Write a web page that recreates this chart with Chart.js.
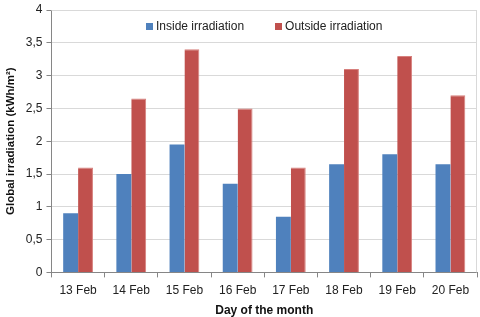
<!DOCTYPE html>
<html>
<head>
<meta charset="utf-8">
<script src="https://cdn.jsdelivr.net/npm/chart.js@4"></script>
<style>
  html, body { margin: 0; padding: 0; background: #fff; }
  #wrap { position: relative; width: 480px; height: 317px; }
  #legend {
    position: absolute; left: 146px; top: 19px;
    display: flex; align-items: center;
    font: 12px "Liberation Sans", Arial, sans-serif; color: #222;
  }
  #legend .item { display: flex; align-items: center; margin-right: 31px; }
  #legend .sw { width: 7px; height: 7px; margin-right: 3px; }
</style>
</head>
<body>
<div id="wrap"><canvas id="chart"></canvas><div id="legend"></div></div>
<script>
// data
const days = ["13 Feb", "14 Feb", "15 Feb", "16 Feb", "17 Feb", "18 Feb", "19 Feb", "20 Feb"];
const insideIrr = [0.9, 1.5, 1.95, 1.35, 0.85, 1.65, 1.8, 1.65];
const outsideIrr = [1.6, 2.65, 3.4, 2.5, 1.6, 3.1, 3.3, 2.7];
const yTicks = [0, 0.5, 1, 1.5, 2, 2.5, 3, 3.5, 4];

// box round the plot area (top/right edges)
const plotBox = {
  id: 'plotBox',
  afterDraw(chart) {
    const { ctx, chartArea: a } = chart;
    ctx.save();
    ctx.strokeStyle = '#d9d9d9';
    ctx.lineWidth = 1;
    ctx.beginPath();
    ctx.moveTo(a.left, a.top + 0.5);
    ctx.lineTo(a.right - 0.5, a.top + 0.5);
    ctx.lineTo(a.right - 0.5, a.bottom);
    ctx.stroke();
    ctx.restore();
  }
};

const ctx = document.getElementById('chart').getContext('2d');
const chart = new Chart(ctx, {
  type: 'bar',
  data: {
    labels: days,
    datasets: [
      {
        label: "Inside irradiation",
        data: insideIrr,
        backgroundColor: "#4f81bd",
        categoryPercentage: 0.56,
        barPercentage: 1
      },
      {
        label: "Outside irradiation",
        data: outsideIrr,
        backgroundColor: "#c0504d",
        borderColor: "#d7807d",
        borderWidth: { left: 0, right: 1, top: 1, bottom: 0 },
        categoryPercentage: 0.56,
        barPercentage: 1
      }
    ]
  },
  options: {
    responsive: true,
    maintainAspectRatio: false,
    animation: false,
    layout: { padding: { top: 0, right: 3, left: 4, bottom: 0 } },
    plugins: {
      legend: { display: false },
      tooltip: { enabled: false }
    },
    scales: {
      x: {
        grid: {
          offset: true,
          drawOnChartArea: false,
          tickLength: 5,
          color: '#868686'
        },
        border: { color: '#868686' },
        ticks: { color: '#222', font: { family: 'Liberation Sans', size: 12 }, padding: 6, maxRotation: 0 },
        title: {
          display: true,
          text: 'Day of the month',
          color: '#111',
          font: { family: 'Liberation Sans', size: 12, weight: 'bold', lineHeight: 1.1 },
          padding: { top: 0, bottom: 0 }
        }
      },
      y: {
        min: 0,
        max: 4,
        afterBuildTicks(axis) { axis.ticks = yTicks.map(v => ({ value: v })); },
        grid: { color: '#d9d9d9', tickLength: 5, tickColor: '#868686' },
        border: { color: '#868686' },
        ticks: {
          color: '#222',
          font: { family: 'Liberation Sans', size: 12, lineHeight: 1 },
          padding: 4,
          callback: v => String(v).replace('.', ',')
        },
        title: {
          display: true,
          text: 'Global irradiation (kWh/m²)',
          color: '#111',
          font: { family: 'Liberation Sans', size: 11.5, weight: 'bold' },
          padding: { top: 0, bottom: 4 }
        }
      }
    }
  },
  plugins: [plotBox]
});

// legend sits inside the plot area, like the original
const legend = document.getElementById('legend');
chart.data.datasets.forEach(ds => {
  const item = document.createElement('div');
  item.className = 'item';
  item.innerHTML = '<span class="sw" style="background:' + ds.backgroundColor + '"></span>' + ds.label;
  legend.appendChild(item);
});
</script>
</body>
</html>
